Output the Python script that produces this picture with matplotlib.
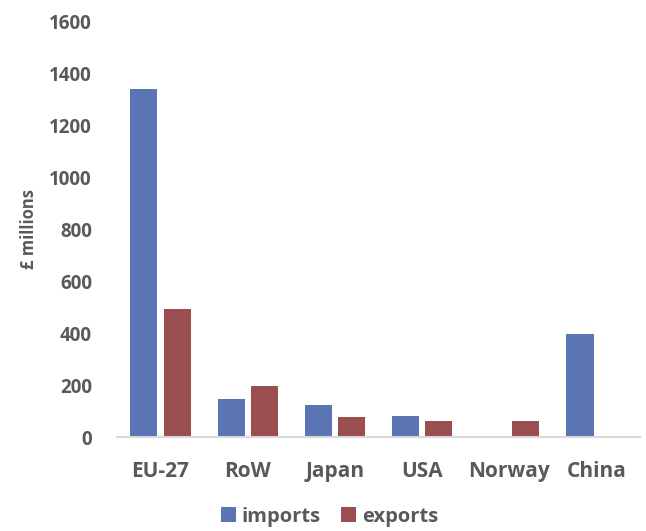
import matplotlib
matplotlib.use("Agg")
import matplotlib.pyplot as plt
import numpy as np

categories = ["EU-27", "RoW", "Japan", "USA", "Norway", "China"]
imports = [1340, 145, 124, 82, 0, 397]
exports = [492, 195, 78, 62, 62, 0]
yticks = [0, 200, 400, 600, 800, 1000, 1200, 1400, 1600]

plt.rcParams['font.family'] = ['Open Sans', 'DejaVu Sans']
text_color = "#595959"

fig = plt.figure(figsize=(6.46, 5.31), dpi=100)
ax = fig.add_axes([0.181, 0.177, 0.81, 0.7816])

x = np.arange(len(categories))
w = 0.31
off = 0.19
ax.bar(x - off, imports, width=w, color="#5B74B4", label="imports")
ax.bar(x + off, exports, width=w, color="#9C4F51", label="exports")

ax.set_xlim(-0.5, len(categories) - 0.5)
ax.set_ylim(0, 1600)
ax.set_yticks(yticks)
ax.set_xticks(x)
ax.set_xticklabels(categories)
for s in ["top", "right", "left"]:
    ax.spines[s].set_visible(False)
ax.spines["bottom"].set_color("#D9D9D9")
ax.spines["bottom"].set_linewidth(1.5)
ax.tick_params(axis="both", length=0, colors=text_color)
ax.tick_params(axis="x", pad=17, labelsize=15)
ax.tick_params(axis="y", pad=18, labelsize=13.5)
for lbl in ax.get_xticklabels() + ax.get_yticklabels():
    lbl.set_fontweight("bold")

ax.set_ylabel("£ millions", fontsize=12, fontweight="bold", color=text_color, labelpad=8)

leg = fig.legend(loc="lower center", bbox_to_anchor=(0.51, 0.004), ncol=2, frameon=False,
                 fontsize=14.5, handlelength=0.75, handleheight=0.75, handletextpad=0.3,
                 columnspacing=1.0, borderaxespad=0.0, borderpad=0.1)
for t in leg.get_texts():
    t.set_fontweight("bold")
    t.set_color(text_color)

fig.savefig("out.png", dpi=100)
